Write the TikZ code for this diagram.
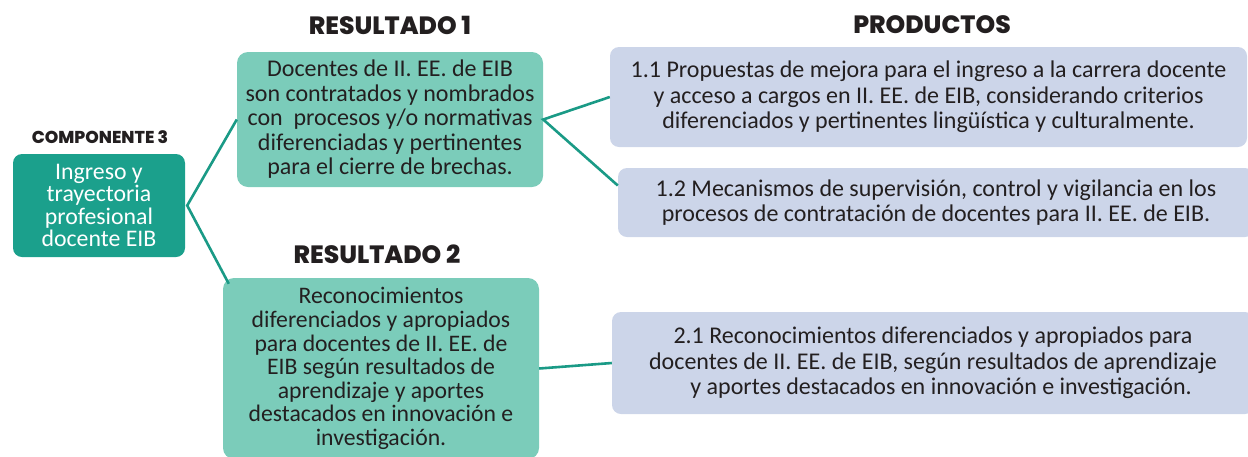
\documentclass[tikz,border=0pt]{standalone}
\usepackage{fontspec}
\setmainfont{Carlito}
\newfontfamily\headfont{Poppins}[BoldFont={Poppins ExtraBold}]
\usetikzlibrary{calc}
\definecolor{compteal}{HTML}{1BA08C}
\definecolor{resteal}{HTML}{7BCCBA}
\definecolor{prodblue}{HTML}{CCD5E9}
\definecolor{linkteal}{HTML}{1A9A86}
\definecolor{ink}{HTML}{231F20}
\tikzset{
  x=1pt, y=-1pt,
  heading/.style={font=\headfont\bfseries\fontsize{25}{27}\selectfont, text=ink, inner sep=0pt},
  smallheading/.style={font=\headfont\bfseries\fontsize{17.2}{18}\selectfont, text=ink, inner sep=0pt},
  compbox/.style={fill=compteal, rounded corners=9pt, align=center, text=white,
    font=\fontsize{23.8}{22.6}\selectfont, inner sep=0pt},
  resbox/.style={fill=resteal, rounded corners=11pt, align=center, text=ink,
    font=\fontsize{24}{24.5}\selectfont, inner sep=0pt},
  resboxb/.style={resbox, font=\fontsize{23.7}{23.6}\selectfont},
  prodbox/.style={fill=prodblue, rounded corners=9pt, align=center, text=ink,
    font=\fontsize{24}{25.5}\selectfont, inner sep=0pt},
  link/.style={draw=linkteal, line width=2.6pt}
}
\begin{document}
\begin{tikzpicture}
\useasboundingbox (0,0) rectangle (1248,456);
% headings
\node[smallheading] (h0) at (100,137) {COMPONENTE 3};
\node[heading] (h1) at (390,25) {RESULTADO 1};
\node[heading] (h2) at (377,254) {RESULTADO 2};
\node[heading] (h3) at (932,25) {PRODUCTOS};
% component
\node[compbox, minimum width=172pt, minimum height=103pt] (comp) at (99,205.5)
  {Ingreso y\\trayectoria\\profesional\\docente EIB};
% results
\node[resbox, minimum width=306pt, minimum height=135pt] (r1) at (390,119.5)
  {Docentes de II. EE. de EIB\\son contratados y nombrados\\con\ \ procesos y/o normativas\\diferenciadas y pertinentes\\para el cierre de brechas.};
\node[resboxb, minimum width=316pt, minimum height=181pt] (r2) at (381,368.5)
  {Reconocimientos\\diferenciados y apropiados\\para docentes de II. EE. de\\EIB según resultados de\\aprendizaje y aportes\\destacados en innovación e\\investigación.};
% products
\node[prodbox, minimum width=637pt, minimum height=100pt] (p1) at (928.5,97)
  {1.1 Propuestas de mejora para el ingreso a la carrera docente\\y acceso a cargos en II. EE. de EIB, considerando criterios\\diferenciados y pertinentes lingüística y culturalmente.};
\node[prodbox, minimum width=636pt, minimum height=69pt] (p2) at (936,202.5)
  {1.2 Mecanismos de supervisión, control y vigilancia en los\\procesos de contratación de docentes para II. EE. de EIB.};
\node[prodbox, minimum width=642pt, minimum height=102pt] (p3) at (933,363)
  {2.1 Reconocimientos diferenciados y apropiados para\\docentes de II. EE. de EIB, según resultados de aprendizaje\\\ \ \ y aportes destacados en innovación e investigación.};
% connectors
\coordinate (cj) at ($(comp.east)+(2,0)$);
\coordinate (r2in) at ($(r2.north west)+(6,6)$);
\coordinate (p2in) at ($(p2.west)+(0,-17)$);
\draw[link] (r1.west) -- (cj) -- (r2in);
\draw[link] (p1.west) -- (r1.east) -- (p2in);
\draw[link] (r2.east) -- (p3.west);
\end{tikzpicture}
\end{document}
